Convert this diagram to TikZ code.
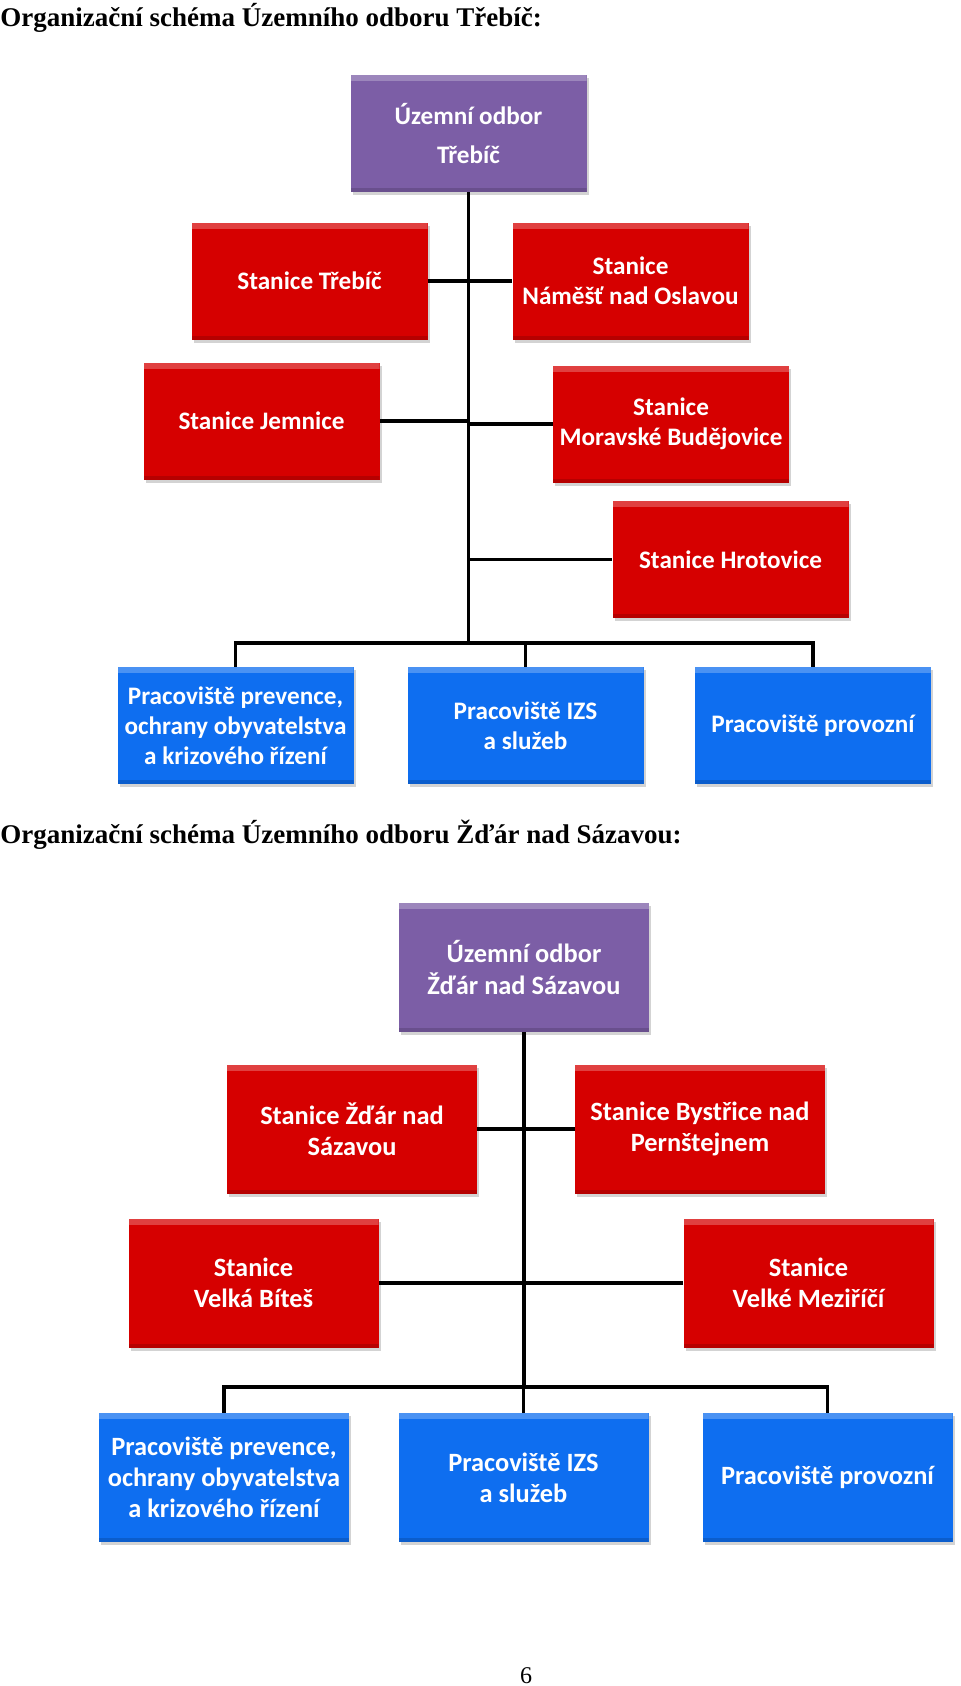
\documentclass[tikz,border=0pt]{standalone}
\usepackage{fontspec}
\setmainfont{Liberation Serif}
\newfontfamily\boxfont{Carlito}
\usetikzlibrary{shadows}
\definecolor{uored}{RGB}{214,0,0}
\definecolor{uopurple}{RGB}{124,94,166}
\definecolor{uoblue}{RGB}{14,110,240}

\begin{document}
\begin{tikzpicture}[x=0.5pt,y=-0.5pt,
  box/.style={minimum width=118pt,minimum height=58.5pt,inner sep=1pt,align=center,text=white,
    font=\boxfont\bfseries\fontsize{12.6}{15}\selectfont,
    drop shadow={shadow xshift=1pt,shadow yshift=-1.5pt,opacity=0.35},
    path picture={
      \fill[white,opacity=0.25] (path picture bounding box.north west) rectangle ([yshift=-3pt]path picture bounding box.north east);
      \fill[black,opacity=0.15] (path picture bounding box.south west) rectangle ([yshift=2pt]path picture bounding box.south east);}},
  head/.style={box,fill=uopurple},
  stanice/.style={box,fill=uored},
  pracoviste/.style={box,fill=uoblue},
  big/.style={minimum width=125pt,minimum height=64.5pt,font=\boxfont\bfseries\fontsize{13.2}{15.5}\selectfont},
  conn/.style={line width=1.8pt},
  title/.style={anchor=base west,inner sep=0pt,font=\bfseries\fontsize{13.5}{16}\selectfont}]
  \useasboundingbox (0,0) rectangle (960,1686);
  % Trebic
  \node[title] (t1) at (0,27) {Organizační schéma Územního odboru Třebíč:};
  \node[head] (uo1) at (468.5,133.5) {Územní odbor\\[4.5pt]Třebíč};
  \node[stanice] (s11) at (309.5,281) {Stanice Třebíč};
  \node[stanice] (s12) at (630.5,281) {Stanice\\Náměšť nad Oslavou};
  \node[stanice] (s13) at (261.5,421) {Stanice Jemnice};
  \node[stanice] (s14) at (671,424) {Stanice\\Moravské Budějovice};
  \node[stanice] (s15) at (730.5,559.5) {Stanice Hrotovice};
  \node[pracoviste] (p11) at (235.5,725.5) {Pracoviště prevence,\\ochrany obyvatelstva\\a krizového řízení};
  \node[pracoviste] (p12) at (525.5,725.5) {Pracoviště IZS\\a služeb};
  \node[pracoviste] (p13) at (813,725.5) {Pracoviště provozní};
  \coordinate (bus1) at (468.5,643);
  \draw[conn] (uo1.south) -- (bus1);
  \foreach \s in {s11,s13} \draw[conn] (\s.east) -- (\s.east -| bus1);
  \foreach \s in {s12,s14,s15} \draw[conn] (\s.west) -- (\s.west -| bus1);
  \draw[conn] (p11.north) |- (bus1) -| (p13.north);
  \draw[conn] (p12.north) -- (p12.north |- bus1);
  % Zdar nad Sazavou
  \node[title] (t2) at (0,843) {Organizační schéma Územního odboru Žďár nad Sázavou:};
  \node[head,big] (uo2) at (524,967.5) {Územní odbor\\[1pt]Žďár nad Sázavou};
  \node[stanice,big] (s21) at (352,1129) {Stanice Žďár nad\\Sázavou};
  \node[stanice,big] (s22) at (700,1129) {Stanice Bystřice nad\\Pernštejnem};
  \node[stanice,big] (s23) at (253.5,1283) {Stanice\\Velká Bíteš};
  \node[stanice,big] (s24) at (808.5,1283) {Stanice\\Velké Meziříčí};
  \node[pracoviste,big] (p21) at (224,1477.5) {Pracoviště prevence,\\ochrany obyvatelstva\\a krizového řízení};
  \node[pracoviste,big] (p22) at (523.5,1477.5) {Pracoviště IZS\\a služeb};
  \node[pracoviste,big] (p23) at (827.5,1477.5) {Pracoviště provozní};
  \coordinate (bus2) at (524,1387);
  \draw[conn] (uo2.south) -- (bus2);
  \foreach \s in {s21,s23} \draw[conn] (\s.east) -- (\s.east -| bus2);
  \foreach \s in {s22,s24} \draw[conn] (\s.west) -- (\s.west -| bus2);
  \draw[conn] (p21.north) |- (bus2) -| (p23.north);
  \draw[conn] (p22.north) -- (p22.north |- bus2);
  \node[anchor=base,inner sep=0pt,font=\fontsize{12}{14}\selectfont] (pg) at (526,1683) {6};
\end{tikzpicture}
\end{document}
